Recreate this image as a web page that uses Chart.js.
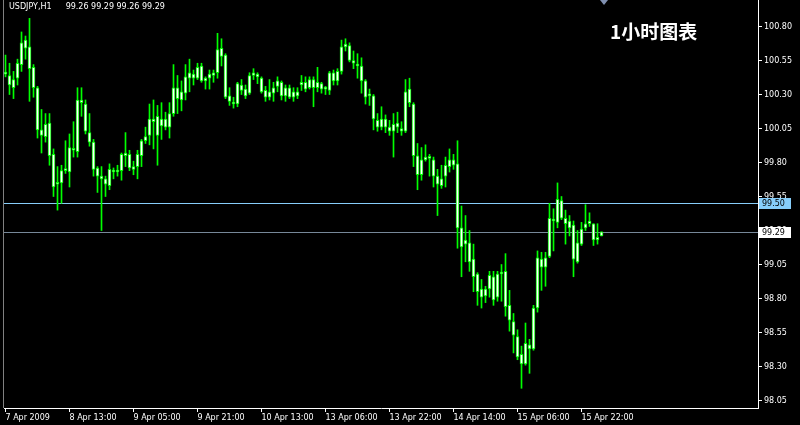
<!DOCTYPE html>
<html>
<head>
<meta charset="utf-8">
<script src="https://cdn.jsdelivr.net/npm/chart.js@4"></script>
<style>
html, body { margin: 0; padding: 0; background: #000; }
#wrap { position: relative; width: 800px; height: 425px; }
canvas { display: block; }
.hdr { position: absolute; left: 9px; top: 2px; color: #fff; font: 8px "DejaVu Sans"; line-height: 9px; white-space: pre; }
.hdr span { margin-left: 14px; }
.zh { position: absolute; left: 610px; top: 20px; color: #fff; font: bold 19px "Noto Sans CJK SC"; line-height: 21px; }
</style>
</head>
<body>
<div id="wrap">
  <canvas id="chart" width="800" height="425"></canvas>
  <div class="hdr">USDJPY,H1<span>99.26 99.29 99.26 99.29</span></div>
  <div class="zh">1小时图表</div>
</div>
<script>
// USDJPY H1 bars, 7 Apr 21:00 -> 16 Apr
const opens = [
  100.46, 100.44, 100.35, 100.42, 100.52, 100.70, 100.65, 100.50, 100.35, 100.04,
  99.99, 100.09, 99.86, 99.64, 99.65, 99.74, 99.73, 99.90, 99.88, 100.26,
  100.23, 100.02, 99.95, 99.76, 99.70, 99.68, 99.63, 99.74, 99.73, 99.74,
  99.85, 99.86, 99.75, 99.77, 99.85, 99.96, 100.00, 100.12, 100.14, 100.07,
  100.12, 100.06, 100.16, 100.35, 100.26, 100.31, 100.42, 100.45, 100.42, 100.51,
  100.40, 100.42, 100.44, 100.46, 100.64, 100.59, 100.29, 100.24, 100.23, 100.37,
  100.34, 100.31, 100.44, 100.45, 100.42, 100.33, 100.28, 100.31, 100.36, 100.39,
  100.29, 100.35, 100.28, 100.32, 100.37, 100.39, 100.35, 100.41, 100.35, 100.38,
  100.34, 100.33, 100.46, 100.40, 100.47, 100.65, 100.66, 100.55, 100.52, 100.51,
  100.40, 100.29, 100.29, 100.11, 100.06, 100.12, 100.06, 100.03, 100.09, 100.05,
  100.03, 100.34, 100.23, 99.85, 99.71, 99.82, 99.84, 99.82, 99.70, 99.63,
  99.70, 99.77, 99.82, 99.79, 99.32, 99.20, 99.21, 99.09, 98.98, 98.87,
  98.82, 98.87, 98.96, 98.81, 98.98, 99.00, 98.75, 98.63, 98.52, 98.39,
  98.32, 98.46, 98.43, 98.73, 99.09, 99.03, 99.11, 99.38, 99.36, 99.52,
  99.39, 99.37, 99.34, 99.07, 99.20, 99.32, 99.35, 99.35, 99.23, 99.26
];
const highs = [
  100.59, 100.53, 100.47, 100.56, 100.76, 100.73, 100.86, 100.52, 100.36, 100.19,
  100.16, 100.16, 99.90, 99.77, 99.78, 99.96, 100.01, 100.10, 100.35, 100.35,
  100.26, 100.16, 99.97, 99.77, 99.77, 99.70, 99.79, 99.76, 99.78, 99.87,
  100.02, 99.89, 99.81, 99.89, 99.97, 100.06, 100.23, 100.26, 100.22, 100.24,
  100.17, 100.24, 100.52, 100.44, 100.40, 100.52, 100.56, 100.48, 100.53, 100.53,
  100.43, 100.48, 100.48, 100.75, 100.71, 100.60, 100.35, 100.28, 100.39, 100.41,
  100.37, 100.46, 100.49, 100.46, 100.43, 100.36, 100.41, 100.39, 100.43, 100.40,
  100.37, 100.37, 100.35, 100.35, 100.44, 100.43, 100.43, 100.43, 100.50, 100.39,
  100.36, 100.47, 100.48, 100.49, 100.70, 100.71, 100.68, 100.62, 100.60, 100.57,
  100.41, 100.34, 100.30, 100.16, 100.21, 100.15, 100.11, 100.16, 100.17, 100.10,
  100.41, 100.42, 100.24, 99.94, 99.91, 99.93, 99.86, 99.84, 99.75, 99.78,
  99.84, 99.90, 99.86, 99.96, 99.48, 99.41, 99.30, 99.20, 98.99, 98.94,
  98.89, 99.00, 99.00, 99.00, 99.05, 99.13, 98.86, 98.69, 98.57, 98.45,
  98.62, 98.50, 98.75, 99.15, 99.14, 99.14, 99.50, 99.46, 99.65, 99.55,
  99.45, 99.41, 99.37, 99.30, 99.36, 99.49, 99.43, 99.35, 99.35, 99.29
];
const lows = [
  100.43, 100.30, 100.27, 100.37, 100.47, 100.56, 100.25, 100.28, 99.98, 99.87,
  99.95, 99.78, 99.55, 99.45, 99.50, 99.72, 99.62, 99.84, 99.84, 100.14,
  100.01, 99.92, 99.70, 99.58, 99.30, 99.55, 99.60, 99.68, 99.70, 99.67,
  99.77, 99.74, 99.71, 99.68, 99.77, 99.94, 99.93, 99.90, 99.78, 99.97,
  100.04, 99.98, 100.14, 100.16, 100.18, 100.26, 100.32, 100.37, 100.41, 100.39,
  100.34, 100.34, 100.39, 100.42, 100.51, 100.27, 100.22, 100.20, 100.21, 100.30,
  100.27, 100.30, 100.41, 100.38, 100.31, 100.25, 100.26, 100.25, 100.32, 100.26,
  100.25, 100.27, 100.25, 100.27, 100.33, 100.32, 100.34, 100.21, 100.32, 100.31,
  100.30, 100.30, 100.37, 100.37, 100.45, 100.62, 100.54, 100.49, 100.42, 100.31,
  100.23, 100.22, 100.04, 100.03, 100.04, 100.02, 100.00, 99.84, 100.02, 100.00,
  100.02, 100.21, 99.77, 99.60, 99.67, 99.81, 99.70, 99.62, 99.41, 99.61,
  99.62, 99.73, 99.75, 99.17, 98.96, 99.07, 99.00, 98.85, 98.75, 98.73,
  98.77, 98.81, 98.75, 98.78, 98.78, 98.67, 98.56, 98.40, 98.35, 98.14,
  98.31, 98.25, 98.42, 98.70, 98.86, 98.89, 99.10, 99.15, 99.32, 99.38,
  99.20, 99.26, 98.96, 99.06, 99.19, 99.30, 99.33, 99.19, 99.20, 99.26
];
const closes = [
  100.45, 100.37, 100.41, 100.53, 100.68, 100.64, 100.49, 100.35, 100.04, 100.00,
  100.08, 99.85, 99.62, 99.65, 99.74, 99.75, 99.91, 99.89, 100.26, 100.24,
  100.03, 99.95, 99.75, 99.70, 99.68, 99.64, 99.75, 99.73, 99.74, 99.86,
  99.87, 99.76, 99.77, 99.86, 99.96, 99.99, 100.12, 100.10, 100.00, 100.12,
  100.06, 100.16, 100.35, 100.27, 100.32, 100.43, 100.46, 100.42, 100.50, 100.40,
  100.42, 100.45, 100.46, 100.63, 100.58, 100.28, 100.25, 100.23, 100.38, 100.33,
  100.29, 100.44, 100.46, 100.43, 100.32, 100.28, 100.32, 100.35, 100.40, 100.29,
  100.35, 100.28, 100.32, 100.29, 100.39, 100.34, 100.41, 100.35, 100.39, 100.34,
  100.35, 100.46, 100.40, 100.47, 100.65, 100.67, 100.55, 100.53, 100.51, 100.40,
  100.28, 100.30, 100.12, 100.06, 100.12, 100.06, 100.03, 100.08, 100.06, 100.03,
  100.32, 100.24, 99.85, 99.71, 99.82, 99.84, 99.83, 99.70, 99.64, 99.68,
  99.78, 99.82, 99.78, 99.32, 99.18, 99.23, 99.07, 98.96, 98.85, 98.81,
  98.87, 98.97, 98.79, 98.98, 98.99, 98.74, 98.64, 98.53, 98.37, 98.32,
  98.47, 98.43, 98.73, 99.10, 99.03, 99.10, 99.39, 99.37, 99.53, 99.39,
  99.35, 99.32, 99.09, 99.21, 99.31, 99.35, 99.37, 99.23, 99.25, 99.29
];

// time axis labels (bar index -> label)
const timeIdx = [0, 16, 32, 48, 64, 80, 96, 112, 128, 144];
const timeLabels = ['7 Apr 2009', '8 Apr 13:00', '9 Apr 05:00', '9 Apr 21:00', '10 Apr 13:00',
  '13 Apr 06:00', '13 Apr 22:00', '14 Apr 14:00', '15 Apr 06:00', '15 Apr 22:00'];

// price scale
const priceTicks = [98.05, 98.30, 98.55, 98.80, 99.05, 99.30, 99.55, 99.80, 100.05, 100.30, 100.55, 100.80];
const levelLine = 99.50;
const bidLine = closes[closes.length - 1];

const wicks = opens.map((o, i) => ({ x: i, y: [lows[i], highs[i]] }));
const bodies = opens.map((o, i) => ({ x: i, y: [o, closes[i]] }));

// no extra padding from tick labels, the plot starts at the very top
function noPad(s) {
  s.paddingTop = 0; s.paddingBottom = 0; s.paddingLeft = 0; s.paddingRight = 0;
}

const overlay = {
  id: 'overlay',
  beforeDraw(chart) {
    const ctx = chart.ctx;
    ctx.save();
    ctx.fillStyle = '#000';
    ctx.fillRect(0, 0, chart.width, chart.height);
    ctx.restore();
  },
  beforeDatasetsDraw(chart) {
    const { ctx, chartArea: a, scales: { y } } = chart;
    ctx.save();
    ctx.fillStyle = '#808080';
    ctx.fillRect(3, 0, 1, a.bottom);
    [[levelLine, '#87cefa'], [bidLine, '#778899']].forEach(([v, c]) => {
      const py = Math.round(y.getPixelForValue(v)) + 0.5;
      ctx.strokeStyle = c;
      ctx.lineWidth = 1;
      ctx.beginPath();
      ctx.moveTo(a.left, py);
      ctx.lineTo(a.right, py);
      ctx.stroke();
    });
    ctx.restore();
  },
  afterDraw(chart) {
    const { ctx, chartArea: a, scales: { y } } = chart;
    ctx.save();
    ctx.font = '8px "DejaVu Sans"';
    ctx.textBaseline = 'middle';
    [[levelLine, '#87cefa'], [bidLine, '#ffffff']].forEach(([v, c]) => {
      const py = Math.round(y.getPixelForValue(v));
      ctx.fillStyle = c;
      ctx.fillRect(a.right + 1, py - 5, 32, 11);
      ctx.fillStyle = '#000';
      ctx.fillText(v.toFixed(2), a.right + 4, py + 0.5);
    });
    // chart shift marker
    ctx.fillStyle = '#8090b0';
    ctx.beginPath();
    ctx.moveTo(600, 0);
    ctx.lineTo(608, 0);
    ctx.lineTo(604, 5);
    ctx.closePath();
    ctx.fill();
    ctx.restore();
  }
};

new Chart(document.getElementById('chart'), {
  type: 'bar',
  data: {
    datasets: [
      {
        label: 'body',
        data: bodies,
        backgroundColor: '#ffffff',
        borderColor: '#00ff00',
        borderWidth: 1,
        borderSkipped: false,
        barThickness: 3,
        minBarLength: 2,
        grouped: false
      },
      {
        label: 'wick',
        data: wicks,
        backgroundColor: '#00ff00',
        borderWidth: 0,
        barThickness: 1,
        grouped: false
      }
    ]
  },
  options: {
    responsive: false,
    animation: false,
    events: [],
    layout: { padding: { left: 4, top: 0, right: 0, bottom: 0 } },
    plugins: { legend: { display: false }, tooltip: { enabled: false } },
    scales: {
      x: {
        type: 'linear',
        offset: false,
        min: -0.375,
        max: 188.125,
        afterBuildTicks: s => { s.ticks = timeIdx.map(v => ({ value: v })); },
        afterFit: s => { s.height = 17; noPad(s); },
        grid: { offset: false, drawOnChartArea: false, drawTicks: true, tickLength: 4, color: '#fff' },
        border: { display: true, color: '#fff', width: 1 },
        ticks: {
          align: 'start', maxRotation: 0, autoSkip: false, color: '#fff', padding: 1,
          font: { family: 'DejaVu Sans', size: 8 },
          callback: (v, i) => timeLabels[i]
        }
      },
      y: {
        position: 'right',
        min: 97.995,
        max: 100.995,
        beginAtZero: false,
        afterBuildTicks: s => { s.ticks = priceTicks.map(v => ({ value: v })); },
        afterFit: s => { s.width = 42; noPad(s); },
        grid: { drawOnChartArea: false, drawTicks: true, tickLength: 4, color: '#fff' },
        border: { display: true, color: '#fff', width: 1 },
        ticks: {
          color: '#fff', padding: 2,
          font: { family: 'DejaVu Sans', size: 8 },
          callback: v => v.toFixed(2)
        }
      }
    }
  },
  plugins: [overlay]
});
</script>
</body>
</html>
